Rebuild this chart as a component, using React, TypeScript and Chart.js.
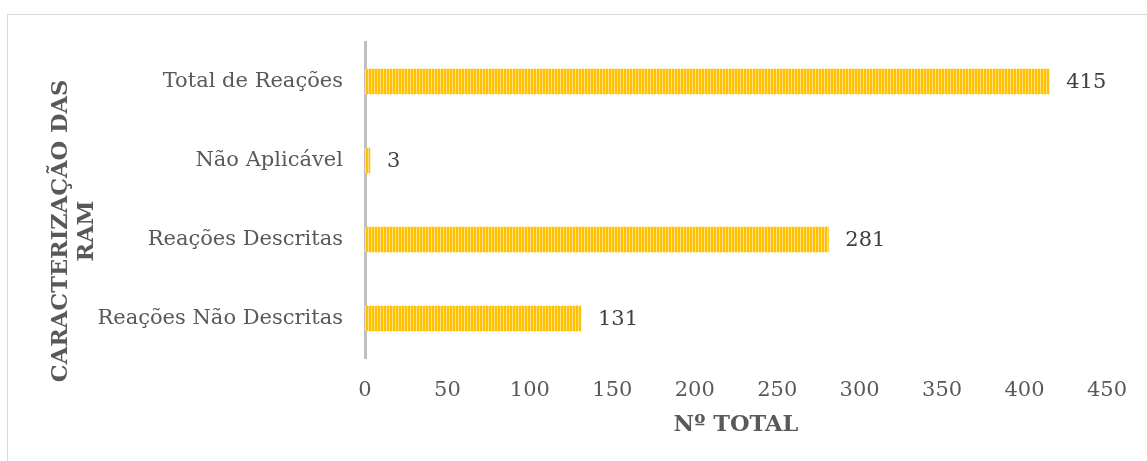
import { useEffect, useRef } from "react";
import { Chart, registerables } from "chart.js";

Chart.register(...registerables);

// Categories (top to bottom) and their totals
const categories = [
  "Total de Reações",
  "Não Aplicável",
  "Reações Descritas",
  "Reações Não Descritas",
];
const totals = [415, 3, 281, 131];

// Value axis range
const xMin = 0;
const xMax = 450;
const xStep = 50;

const xTitle = "Nº TOTAL";
const yTitleLines = ["CARACTERIZAÇÃO DAS", "RAM"];

const FONT_FAMILY = "'DejaVu Serif', 'Liberation Serif', serif";
const TEXT_GREY = "#595959";
const LABEL_DARK = "#404040";
const BAR_GOLD = "#FFC000";
const BAR_LIGHT = "#FFDF80";

function makeStripes(ctx: CanvasRenderingContext2D): CanvasPattern | string {
  const tile = document.createElement("canvas");
  tile.width = 3;
  tile.height = 1;
  const g = tile.getContext("2d");
  if (!g) return BAR_GOLD;
  const cols = [BAR_GOLD, BAR_GOLD, BAR_LIGHT];
  cols.forEach((c, i) => {
    g.fillStyle = c;
    g.fillRect(i, 0, 1, 1);
  });
  return ctx.createPattern(tile, "repeat") || BAR_GOLD;
}

// Light frame around the whole chart
const framePlugin = {
  id: "frame",
  beforeDraw(chart: Chart) {
    const { ctx } = chart;
    ctx.save();
    ctx.strokeStyle = "#d9d9d9";
    ctx.lineWidth = 1;
    ctx.strokeRect(7.5, 14.5, 1400, 600);
    ctx.restore();
  },
};

// Value printed to the right of each bar
const valueLabelPlugin = {
  id: "valueLabels",
  afterDatasetsDraw(chart: Chart) {
    const { ctx } = chart;
    const meta = chart.getDatasetMeta(0);
    ctx.save();
    ctx.font = `21px ${FONT_FAMILY}`;
    ctx.fillStyle = LABEL_DARK;
    ctx.textAlign = "left";
    ctx.textBaseline = "middle";
    meta.data.forEach((bar: any, i: number) => {
      ctx.fillText(String(totals[i]), bar.x + 17, bar.y + 1);
    });
    ctx.restore();
  },
};

// Two-line rotated title for the category axis
const yTitlePlugin = {
  id: "yTitle",
  afterDraw(chart: Chart) {
    const { ctx } = chart;
    ctx.save();
    ctx.translate(74, 231);
    ctx.rotate(-Math.PI / 2);
    ctx.font = `bold 22.5px ${FONT_FAMILY}`;
    ctx.fillStyle = TEXT_GREY;
    ctx.textAlign = "center";
    ctx.textBaseline = "middle";
    const lh = 26;
    yTitleLines.forEach((line, i) => {
      ctx.fillText(line, 0, (i - (yTitleLines.length - 1) / 2) * lh);
    });
    ctx.restore();
  },
};

export default function App() {
  const canvasRef = useRef<HTMLCanvasElement | null>(null);

  useEffect(() => {
    const canvas = canvasRef.current;
    if (!canvas) return;
    const ctx = canvas.getContext("2d");
    if (!ctx) return;

    const chart = new Chart(ctx, {
      type: "bar",
      data: {
        labels: categories,
        datasets: [
          {
            data: totals,
            backgroundColor: makeStripes(ctx),
            borderWidth: 0,
            barThickness: 25,
          },
        ],
      },
      options: {
        indexAxis: "y",
        animation: false,
        responsive: false,
        devicePixelRatio: 1,
        layout: { padding: { top: 42, right: 37, bottom: 0, left: 0 } },
        plugins: {
          legend: { display: false },
          tooltip: { enabled: false },
        },
        scales: {
          x: {
            min: xMin,
            max: xMax,
            ticks: {
              stepSize: xStep,
              color: TEXT_GREY,
              font: { family: FONT_FAMILY, size: 21 },
              padding: 20,
            },
            grid: { display: false, drawTicks: false },
            border: { display: false },
            title: {
              display: true,
              text: xTitle,
              color: TEXT_GREY,
              font: { family: FONT_FAMILY, size: 22.5, weight: "bold" },
              padding: { top: 0, bottom: 22 },
            },
            afterFit(scale: any) {
              scale.height = 103;
            },
          },
          y: {
            ticks: {
              color: TEXT_GREY,
              font: { family: FONT_FAMILY, size: 21 },
              padding: 22,
            },
            grid: { display: false, drawTicks: false },
            border: { display: true, color: "#bfbfbf", width: 3 },
            afterFit(scale: any) {
              scale.width = 365;
            },
          },
        },
      },
      plugins: [framePlugin, valueLabelPlugin, yTitlePlugin],
    });

    return () => chart.destroy();
  }, []);

  return (
    <div style={{ position: "absolute", left: 0, top: 0, width: 1147, height: 461, background: "#fff" }}>
      <canvas ref={canvasRef} width={1147} height={461} />
    </div>
  );
}
